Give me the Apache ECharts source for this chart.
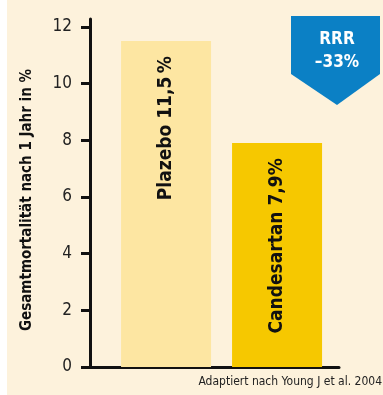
<!DOCTYPE html>
<html><head><meta charset="utf-8">
<script src="https://cdn.jsdelivr.net/npm/echarts@6/dist/echarts.min.js"></script>
<style>html,body{margin:0;padding:0;background:#fff;}#c{width:383px;height:395px;}</style>
</head><body><div id="c"></div>
<script>
const categories = ['Plazebo', 'Candesartan'];
const valueLabels = ['11,5\u2009%', '7,9%'];
const values = [11.5, 7.9];
const yTicks = [0, 2, 4, 6, 8, 10, 12];
const yTitle = 'Gesamtmortalität nach 1 Jahr in %';
const badgeLines = ['RRR', '–33%'];
const sourceNote = 'Adaptiert nach Young J et al. 2004';

const barColors = ['#fde6a2', '#f6c800'];
const FONT = '"Liberation Sans Narrow", "DejaVu Sans Condensed", "Liberation Sans", sans-serif';

const chart = echarts.init(document.getElementById('c'), null, {renderer: 'canvas'});
chart.setOption({
  backgroundColor: '#fdf2dc',
  animation: false,
  textStyle: {fontFamily: FONT},
  grid: {left: 90, right: 44, top: 19, bottom: 28, containLabel: false},
  xAxis: {
    type: 'value', min: -0.685, max: 1.558,
    axisLine: {show: true, onZero: false, lineStyle: {color: '#111', width: 3}},
    axisTick: {show: false}, axisLabel: {show: false}, splitLine: {show: false}
  },
  yAxis: {
    type: 'value', min: 0, max: 12.28, interval: 2,
    name: yTitle, nameLocation: 'middle', nameGap: 55,
    nameTextStyle: {fontFamily: FONT, fontWeight: 'bold', fontSize: 15, color: '#111', padding: [0, 0, 0, -14]},
    axisLine: {show: true, onZero: false, lineStyle: {color: '#111', width: 3}},
    axisTick: {show: true, length: 9, lineStyle: {color: '#111', width: 3}, customValues: yTicks},
    axisLabel: {color: '#222', fontSize: 17, margin: 18, fontFamily: FONT, customValues: yTicks},
    splitLine: {show: false}
  },
  series: [{
    type: 'bar',
    barWidth: 90,
    data: values.map((v, i) => ({value: [i, v], itemStyle: {color: barColors[i]}})),
    label: {
      show: true, position: 'insideTop', rotate: 90, distance: 15,
      align: 'right', verticalAlign: 'middle',
      fontFamily: FONT, fontWeight: 'bold', fontSize: 19, color: '#111',
      formatter: p => categories[p.dataIndex] + ' ' + valueLabels[p.dataIndex]
    }
  }],
  graphic: [
    {type: 'rect', left: 0, top: 0, shape: {width: 7, height: 395}, style: {fill: '#fff'}, silent: true},
    {type: 'polygon', shape: {points: [[291, 16], [380, 16], [380, 74], [337, 105], [291, 74]]}, style: {fill: '#0b80c5'}},
    {type: 'text', x: 337, y: 40, style: {text: badgeLines[0], fill: '#fff', font: 'bold 17px ' + FONT, align: 'center', verticalAlign: 'middle'}},
    {type: 'text', x: 337, y: 63, style: {text: badgeLines[1], fill: '#fff', font: 'bold 17px ' + FONT, align: 'center', verticalAlign: 'middle'}},
    {type: 'text', x: 382, y: 382, style: {text: sourceNote, fill: '#222', font: '12px ' + FONT, align: 'right', verticalAlign: 'middle'}}
  ]
});
</script></body></html>
